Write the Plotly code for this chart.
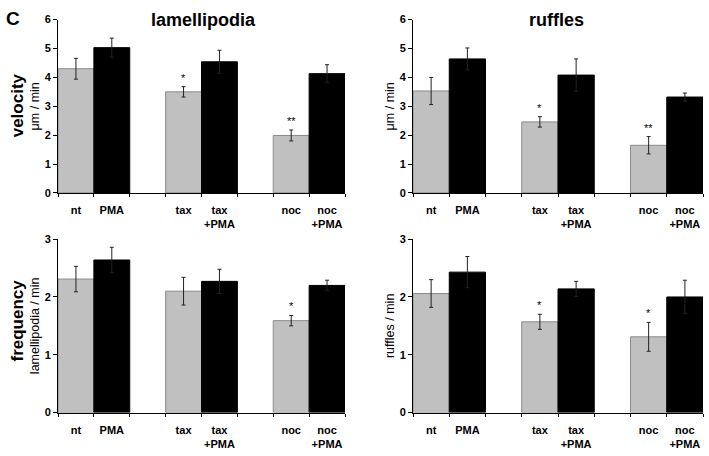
import plotly.graph_objects as go

# ---------------- data ----------------
categories = ["nt", "PMA", " ", "tax", "tax<br>+PMA", "  ", "noc", "noc<br>+PMA"]
gray_cats = ["nt", "tax", "noc"]
black_cats = ["PMA", "tax<br>+PMA", "noc<br>+PMA"]

lam_vel_gray = [4.30, 3.50, 1.99]
lam_vel_gray_err = [0.36, 0.18, 0.19]
lam_vel_black = [5.03, 4.54, 4.13]
lam_vel_black_err = [0.33, 0.40, 0.31]
lam_vel_stars = ["", "*", "**"]

ruf_vel_gray = [3.53, 2.46, 1.65]
ruf_vel_gray_err = [0.47, 0.18, 0.30]
ruf_vel_black = [4.64, 4.08, 3.32]
ruf_vel_black_err = [0.38, 0.56, 0.14]
ruf_vel_stars = ["", "*", "**"]

lam_freq_gray = [2.31, 2.10, 1.59]
lam_freq_gray_err = [0.22, 0.24, 0.09]
lam_freq_black = [2.64, 2.27, 2.20]
lam_freq_black_err = [0.22, 0.21, 0.09]
lam_freq_stars = ["", "", "*"]

ruf_freq_gray = [2.06, 1.57, 1.31]
ruf_freq_gray_err = [0.24, 0.13, 0.25]
ruf_freq_black = [2.43, 2.14, 2.00]
ruf_freq_black_err = [0.27, 0.13, 0.29]
ruf_freq_stars = ["", "*", "*"]

panel_titles = ["lamellipodia", "ruffles"]
row_titles = ["velocity", "frequency"]
y_titles = ["\u03bcm / min", "\u03bcm / min", "lamellipodia / min", "ruffles / min"]

FONT = "Arial, Liberation Sans, sans-serif"
GRAY = "#c0c0c0"

panels = [
    (lam_vel_gray, lam_vel_gray_err, lam_vel_black, lam_vel_black_err, lam_vel_stars, 6),
    (ruf_vel_gray, ruf_vel_gray_err, ruf_vel_black, ruf_vel_black_err, ruf_vel_stars, 6),
    (lam_freq_gray, lam_freq_gray_err, lam_freq_black, lam_freq_black_err, lam_freq_stars, 3),
    (ruf_freq_gray, ruf_freq_gray_err, ruf_freq_black, ruf_freq_black_err, ruf_freq_stars, 3),
]

W, H = 709, 456
xdoms = [[58 / W, 345 / W], [413 / W, 703 / W]]
ydoms = [[1 - 192 / H, 1 - 14 / H], [1 - 417.5 / H, 1 - 239.5 / H]]

fig = go.Figure()
annotations = []
layout = {}

for i, (g, ge, b, be, stars, ymax) in enumerate(panels):
    row, col = divmod(i, 2)
    ax = "" if i == 0 else str(i + 1)
    xa, ya = "x" + ax, "y" + ax
    fig.add_trace(go.Bar(
        x=gray_cats, y=g, xaxis=xa, yaxis=ya, width=1.0,
        marker=dict(color=GRAY, line=dict(color="#8a8a8a", width=1)),
        error_y=dict(type="data", array=ge, color="#222222", thickness=1, width=2),
        showlegend=False, hoverinfo="skip",
    ))
    fig.add_trace(go.Bar(
        x=black_cats, y=b, xaxis=xa, yaxis=ya, width=1.0,
        marker=dict(color="#000000", line=dict(color="#000000", width=1)),
        error_y=dict(type="data", array=be, color="#222222", thickness=1, width=2),
        showlegend=False, hoverinfo="skip",
    ))
    layout["xaxis" + ax] = dict(
        domain=xdoms[col], anchor=ya, type="category",
        categoryorder="array", categoryarray=categories,
        range=[-0.5, len(categories) - 0.5],
        showline=True, linecolor="#000000", linewidth=1,
        ticks="outside", ticklen=3, tickwidth=1, tickcolor="#000000",
        tickson="boundaries", tickangle=0, ticklabelstandoff=7,
        showgrid=False, zeroline=False,
        tickfont=dict(family=FONT, size=11, color="#000000", weight="bold"),
        fixedrange=True,
    )
    layout["yaxis" + ax] = dict(
        domain=ydoms[row], anchor=xa, range=[0, ymax], dtick=1,
        showline=True, linecolor="#000000", linewidth=1,
        ticks="outside", ticklen=4, tickwidth=1, tickcolor="#000000",
        showgrid=False, zeroline=False,
        tickfont=dict(family=FONT, size=11, color="#000000", weight="bold"),
        title=dict(text=y_titles[i], standoff=2,
                   font=dict(family=FONT, size=12.5, color="#000000")),
        fixedrange=True,
    )
    # significance stars
    for c, v, e, s in zip(gray_cats, g, ge, stars):
        if s:
            annotations.append(dict(
                x=c, y=v + e, xref=xa, yref=ya, text=s, showarrow=False,
                xanchor="center", yanchor="bottom", yshift=1,
                font=dict(family=FONT, size=11, color="#000000"),
            ))

for col, t in enumerate(panel_titles):
    annotations.append(dict(
        x=(203 if col == 0 else 556) / W, y=1 - 14 / H, xref="paper", yref="paper",
        text=t, showarrow=False, xanchor="center", yanchor="middle",
        font=dict(family=FONT, size=18, color="#000000", weight="bold"),
    ))
for row, t in enumerate(row_titles):
    annotations.append(dict(
        x=17 / W, y=1 - (102 if row == 0 else 323) / H, xref="paper", yref="paper",
        text=t, textangle=-90, showarrow=False, xanchor="center", yanchor="middle",
        font=dict(family=FONT, size=17, color="#000000", weight="bold"),
    ))
annotations.append(dict(
    x=13 / W, y=1 - 13 / H, xref="paper", yref="paper", text="C", showarrow=False,
    xanchor="center", yanchor="middle",
    font=dict(family=FONT, size=19, color="#000000", weight="bold"),
))

fig.update_layout(
    width=W, height=H, margin=dict(l=0, r=0, t=0, b=0),
    paper_bgcolor="#ffffff", plot_bgcolor="#ffffff",
    barmode="overlay", annotations=annotations, **layout,
)
fig.write_html(
    "out.html",
    config={"displayModeBar": False},
    post_script="document.body.style.margin='0';document.body.style.overflow='hidden';",
)
